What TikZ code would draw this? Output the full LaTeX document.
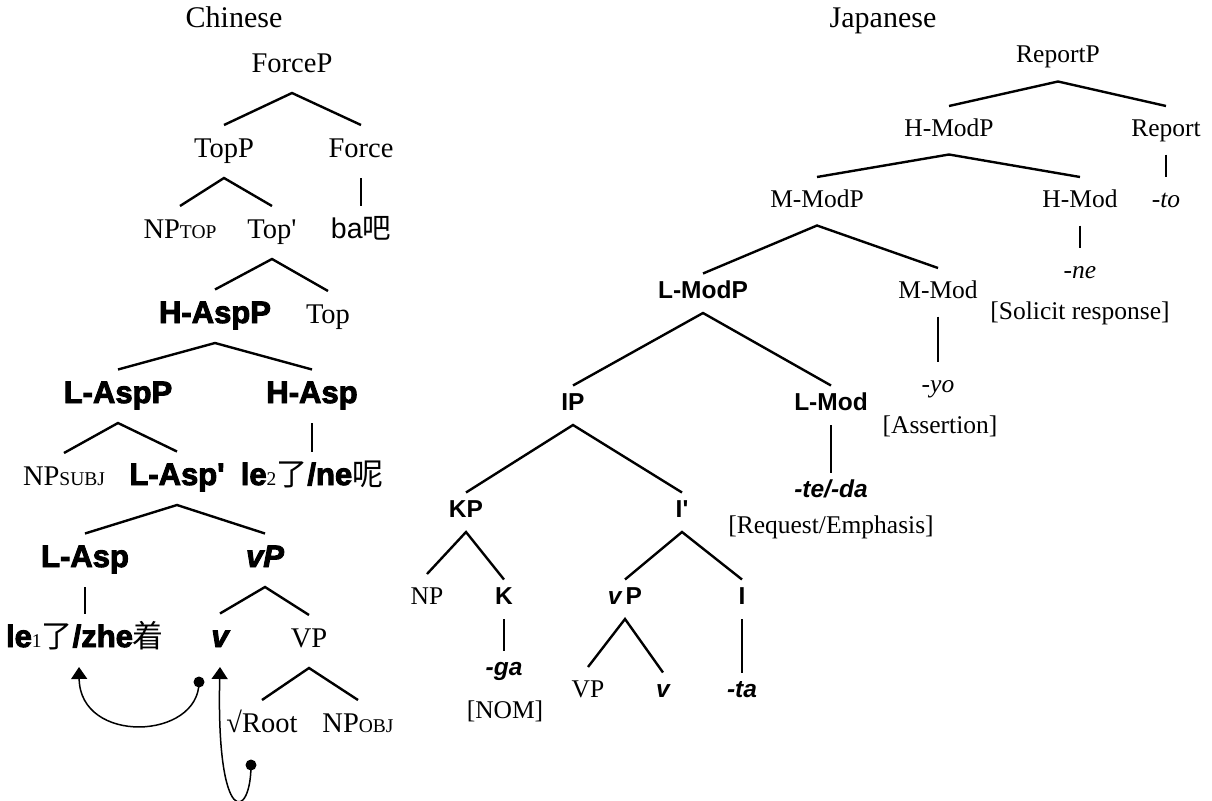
\documentclass[tikz,border=0pt]{standalone}
\usepackage{fontspec}
\setmainfont{Liberation Serif}
\newfontfamily\lsans{Liberation Sans}
\newfontfamily\heavy{Liberation Sans}[BoldFeatures={FakeBold=3},BoldItalicFeatures={FakeBold=3}]
\newfontfamily\cjk{Noto Sans CJK SC}
\usetikzlibrary{arrows.meta}
\newcommand\smc[1]{{\fontsize{19.5}{20}\selectfont\rmfamily\mdseries\upshape #1}}
\begin{document}
\begin{tikzpicture}[x=1pt,y=-1pt,
  LS/.style={anchor=base,inner sep=0pt,text height=19pt,text depth=8pt,outer ysep=13pt,font=\fontsize{28.5}{30}\selectfont},
  LB/.style={anchor=base,inner sep=0pt,text height=21.5pt,text depth=8pt,outer ysep=12pt,font=\fontsize{31}{33}\selectfont\heavy\bfseries},
  RS/.style={anchor=base,inner sep=0pt,text height=17pt,text depth=5.5pt,outer ysep=13pt,font=\fontsize{25.5}{27}\selectfont},
  RB/.style={anchor=base,inner sep=0pt,text height=17.5pt,text depth=8pt,outer ysep=7pt,font=\fontsize{24.5}{26}\selectfont\lsans\bfseries},
  title/.style={anchor=base,inner sep=0pt,font=\fontsize{30}{32}\selectfont},
  note/.style={anchor=base,inner sep=0pt,font=\fontsize{25.5}{27}\selectfont},
  br/.style={line width=2.4pt},
  mv/.style={line width=1.5pt,-{Triangle[length=12pt,width=16pt]}},
  tdot/.style={fill=black}]
\fill[white] (0,0) rectangle (1212,800);
\useasboundingbox (0,0) rectangle (1212,800);

% titles
\node[title] (zh) at (234,28) {Chinese};
\node[title] (ja) at (883,28) {Japanese};

% Chinese tree
\node[LS] (ForceP) at (292,72) {ForceP};
\node[LS] (TopP) at (224,157) {TopP};
\node[LS] (Force) at (361,157) {Force};
\node[LS] (NPtop) at (180,238) {NP\smc{TOP}};
\node[LS] (Topbar) at (272,238) {Top\textquotesingle};
\node[LS] (ba) at (361,238) {{\lsans ba}{\cjk 吧}};
\node[LB] (HAspP) at (215,323) {H-AspP};
\node[LS] (Top) at (328,323) {Top};
\node[LB] (LAspP) at (118,403) {L-AspP};
\node[LB] (HAsp) at (312,403) {H-Asp};
\node[LS] (NPsubj) at (64,485) {NP\smc{SUBJ}};
\node[LB] (LAspbar) at (177,485) {L-Asp\textquotesingle};
\node[LB] (le2) at (312,485) {le\smc{2}{\mdseries\cjk 了}/ne{\mdseries\cjk 呢}};
\node[LB] (LAsp) at (85,567) {L-Asp};
\node[LB] (vP) at (265,567) {\itshape vP};
\node[LB] (le1) at (85,647) {le\smc{1}{\mdseries\cjk 了}/zhe{\mdseries\cjk 着}};
\node[LB] (v) at (220,647) {\itshape v};
\node[LS] (VP) at (309,647) {VP};
\node[LS] (Root) at (262,732) {√Root};
\node[LS] (NPobj) at (358,732) {NP\smc{OBJ}};

\draw[br] (TopP.north) -- (ForceP.south) -- (Force.north);
\draw[br] (NPtop.north) -- (TopP.south) -- (Topbar.north);
\draw[br] (Force.south) -- (ba.north);
\draw[br] (HAspP.north) -- (Topbar.south) -- (Top.north);
\draw[br] (LAspP.north) -- (HAspP.south) -- (HAsp.north);
\draw[br] (NPsubj.north) -- (LAspP.south) -- (LAspbar.north);
\draw[br] (HAsp.south) -- (le2.north);
\draw[br] (LAsp.north) -- (LAspbar.south) -- (vP.north);
\draw[br] (LAsp.south) -- (le1.north);
\draw[br] (v.north) -- (vP.south) -- (VP.north);
\draw[br] (Root.north) -- (VP.south) -- (NPobj.north);

% movement arrows
\coordinate (vdot) at (199,682);
\coordinate (rdot) at (251,765);
\draw[mv] (vdot) .. controls (199,740) and (80,745) .. ([xshift=-6pt]le1.south);
\draw[mv] (rdot) .. controls (251,820) and (216,830) .. (v.south);
\fill[tdot] (vdot) circle (5.5pt);
\fill[tdot] (rdot) circle (5.5pt);

% Japanese tree
\node[RS] (ReportP) at (1058,63) {ReportP};
\node[RS] (HModP) at (949,136) {H-ModP};
\node[RS] (Report) at (1166,136) {Report};
\node[RS] (MModP) at (817,207) {M-ModP};
\node[RS] (HMod) at (1080,207) {H-Mod};
\node[RS] (to) at (1166,207) {\itshape -to};
\node[RS] (ne) at (1080,278) {\itshape -ne};
\node[note] (solicit) at (1080,319) {[Solicit response]};
\node[RB] (LModP) at (703,298) {L-ModP};
\node[RS] (MMod) at (938,298) {M-Mod};
\node[RS] (yo) at (938,392) {\itshape -yo};
\node[note] (assert) at (940,433) {[Assertion]};
\node[RB] (IP) at (573,410) {IP};
\node[RB] (LMod) at (831,410) {L-Mod};
\node[RB] (teda) at (831,497) {\itshape -te/-da};
\node[note] (req) at (831,533) {[Request/Emphasis]};
\node[RB] (KP) at (466,517) {KP};
\node[RB] (Ibar) at (682,517) {I\textquotesingle};
\node[RS] (NPj) at (427,604) {NP};
\node[RB] (K) at (504,604) {K};
\node[RB] (vPj) at (625,604) {{\itshape v}\,P};
\node[RB] (I) at (742,604) {I};
\node[RB] (ga) at (504,675) {\itshape -ga};
\node[note] (nom) at (505,718) {[NOM]};
\node[RS] (VPj) at (588,697) {VP};
\node[RB] (vj) at (663,697) {\itshape v};
\node[RB] (ta) at (742,697) {\itshape -ta};

\draw[br] (HModP.north) -- (ReportP.south) -- (Report.north);
\draw[br] (MModP.north) -- (HModP.south) -- (HMod.north);
\draw[br] (Report.south) -- (to.north);
\draw[br] (HMod.south) -- (ne.north);
\draw[br] (LModP.north) -- (MModP.south) -- (MMod.north);
\draw[br] (MMod.south) -- (yo.north);
\draw[br] (IP.north) -- (LModP.south) -- (LMod.north);
\draw[br] (LMod.south) -- (teda.north);
\draw[br] (KP.north) -- (IP.south) -- (Ibar.north);
\draw[br] (NPj.north) -- (KP.south) -- (K.north);
\draw[br] (vPj.north) -- (Ibar.south) -- (I.north);
\draw[br] (K.south) -- (ga.north);
\draw[br] (I.south) -- (ta.north);
\draw[br] (VPj.north) -- (vPj.south) -- (vj.north);
\end{tikzpicture}
\end{document}
